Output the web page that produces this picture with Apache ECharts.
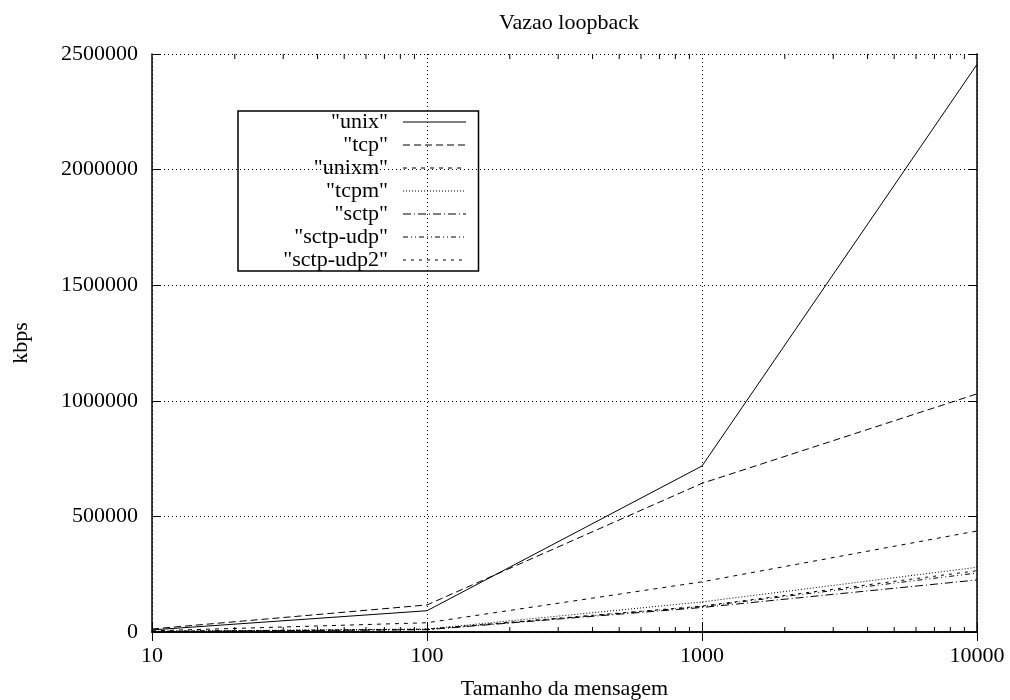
<!DOCTYPE html>
<html>
<head>
<meta charset="utf-8">
<title>Vazao loopback</title>
<script src="https://cdn.jsdelivr.net/npm/echarts@6/dist/echarts.min.js"></script>
<style>
  html, body { margin: 0; padding: 0; background: #fff; }
  #chart { width: 1010px; height: 700px; }
</style>
</head>
<body>
<div id="chart"></div>
<script>
// Message sizes (bytes) and throughput (kbps) per transport
const sizes = [10, 100, 1000, 10000];
const unix     = [9000, 92000, 718000, 2455000];
const tcp      = [13000, 117000, 643000, 1030000];
const unixm    = [5000, 40000, 217000, 437000];
const tcpm     = [3000, 13000, 130000, 280000];
const sctp     = [2000, 10000, 106000, 225000];
const sctpUdp  = [2000, 11000, 110000, 255000];
const sctpUdp2 = [2500, 12000, 112000, 265000];

const seriesNames = ['"unix"', '"tcp"', '"unixm"', '"tcpm"', '"sctp"', '"sctp-udp"', '"sctp-udp2"'];
const seriesValues = [unix, tcp, unixm, tcpm, sctp, sctpUdp, sctpUdp2];
const dashes = ['solid', [7, 4], [4, 5], [1, 2], [8, 3, 1, 3], [5, 3, 1, 3, 1, 3], [3, 5]];

// Minor ticks of the logarithmic x axis (2..9 times each decade)
const minorTicks = [20, 30, 40, 50, 60, 70, 80, 90, 200, 300, 400, 500, 600, 700, 800, 900,
                    2000, 3000, 4000, 5000, 6000, 7000, 8000, 9000];

const Y_MIN = 0, Y_MAX = 2500000, Y_STEP = 500000;
const FONT = 'Liberation Serif';
const FS = 22;

const chart = echarts.init(document.getElementById('chart'), null, { renderer: 'canvas' });

const lineSeries = seriesNames.map((name, i) => ({
  name: name,
  type: 'line',
  xAxisIndex: 0,
  yAxisIndex: 0,
  data: sizes.map((s, j) => [s, seriesValues[i][j]]),
  symbol: 'none',
  showSymbol: false,
  animation: false,
  lineStyle: { color: '#000', width: 1, type: dashes[i] },
  itemStyle: { color: '#000' },
  z: 5
}));

const xAxisBase = {
  type: 'log',
  logBase: 10,
  min: 10,
  max: 10000,
  axisLine: { show: true, lineStyle: { color: '#000', width: 1.5 } },
  axisTick: { show: true, inside: true, length: 9, lineStyle: { color: '#000', width: 1 } }
};
const yAxisBase = {
  type: 'value',
  min: Y_MIN,
  max: Y_MAX,
  interval: Y_STEP,
  axisLine: { show: true, lineStyle: { color: '#000', width: 1.5 } },
  axisTick: { show: true, inside: true, length: 9, lineStyle: { color: '#000', width: 1 } }
};

chart.setOption({
  backgroundColor: '#fff',
  animation: false,
  title: {
    text: 'Vazao loopback',
    left: 564,
    textAlign: 'center',
    top: 7,
    textStyle: { fontFamily: FONT, fontSize: FS, fontWeight: 'normal', color: '#000' }
  },
  grid: { left: 152, right: 33, top: 54, bottom: 68, containLabel: false, outerBoundsMode: 'none' },
  legend: {
    data: seriesNames,
    orient: 'vertical',
    left: 238,
    top: 111,
    align: 'right',
    itemWidth: 63,
    itemHeight: 12,
    itemGap: 1,
    padding: [0, 12, 0, 4],
    borderColor: '#000',
    borderWidth: 1.5,
    borderRadius: 0,
    selectedMode: false,
    inactiveColor: '#000',
    itemStyle: { color: 'rgba(0,0,0,0)', borderColor: 'rgba(0,0,0,0)', borderWidth: 0 },
    lineStyle: { width: 1 },
    formatter: n => '{t|' + n + '}',
    textStyle: {
      color: '#000',
      fontFamily: FONT,
      fontSize: FS,
      rich: {
        t: { width: 146, align: 'right', fontFamily: FONT, fontSize: FS, lineHeight: 22, padding: [0, 10, 0, 0], color: '#000' }
      }
    }
  },
  xAxis: [
    Object.assign({}, xAxisBase, {
      position: 'bottom',
      name: 'Tamanho da mensagem',
      nameLocation: 'middle',
      nameGap: 46,
      nameTextStyle: { fontFamily: FONT, fontSize: FS, color: '#000' },
      axisLabel: { color: '#000', fontFamily: FONT, fontSize: FS, margin: 13, formatter: v => String(v) },
      splitLine: { show: true, lineStyle: { color: '#000', width: 1, type: [1, 3] } },
      minorTick: { show: false }
    }),
    Object.assign({}, xAxisBase, {
      position: 'top',
      axisLabel: { show: false },
      splitLine: { show: false }
    })
  ],
  yAxis: [
    Object.assign({}, yAxisBase, {
      position: 'left',
      name: 'kbps',
      nameLocation: 'middle',
      nameGap: 120,
      nameRotate: 90,
      nameTextStyle: { fontFamily: FONT, fontSize: FS, color: '#000' },
      axisLabel: { color: '#000', fontFamily: FONT, fontSize: FS, margin: 14, formatter: v => String(v) },
      splitLine: { show: true, lineStyle: { color: '#000', width: 1, type: [1, 3] } }
    }),
    Object.assign({}, yAxisBase, {
      position: 'right',
      axisLabel: { show: false },
      splitLine: { show: false }
    })
  ],
  series: lineSeries.concat([{
    name: 'minor ticks',
    type: 'custom',
    xAxisIndex: 0,
    yAxisIndex: 0,
    silent: true,
    animation: false,
    clip: false,
    data: minorTicks.map(v => [v]),
    encode: { x: 0 },
    renderItem: function (params, api) {
      const v = api.value(0);
      const b = api.coord([v, Y_MIN]);
      const t = api.coord([v, Y_MAX]);
      const st = { stroke: '#000', lineWidth: 1 };
      return {
        type: 'group',
        children: [
          { type: 'line', shape: { x1: b[0], y1: b[1], x2: b[0], y2: b[1] - 5 }, style: st },
          { type: 'line', shape: { x1: t[0], y1: t[1], x2: t[0], y2: t[1] + 5 }, style: st }
        ]
      };
    },
    z: 6
  }])
});
</script>
</body>
</html>
